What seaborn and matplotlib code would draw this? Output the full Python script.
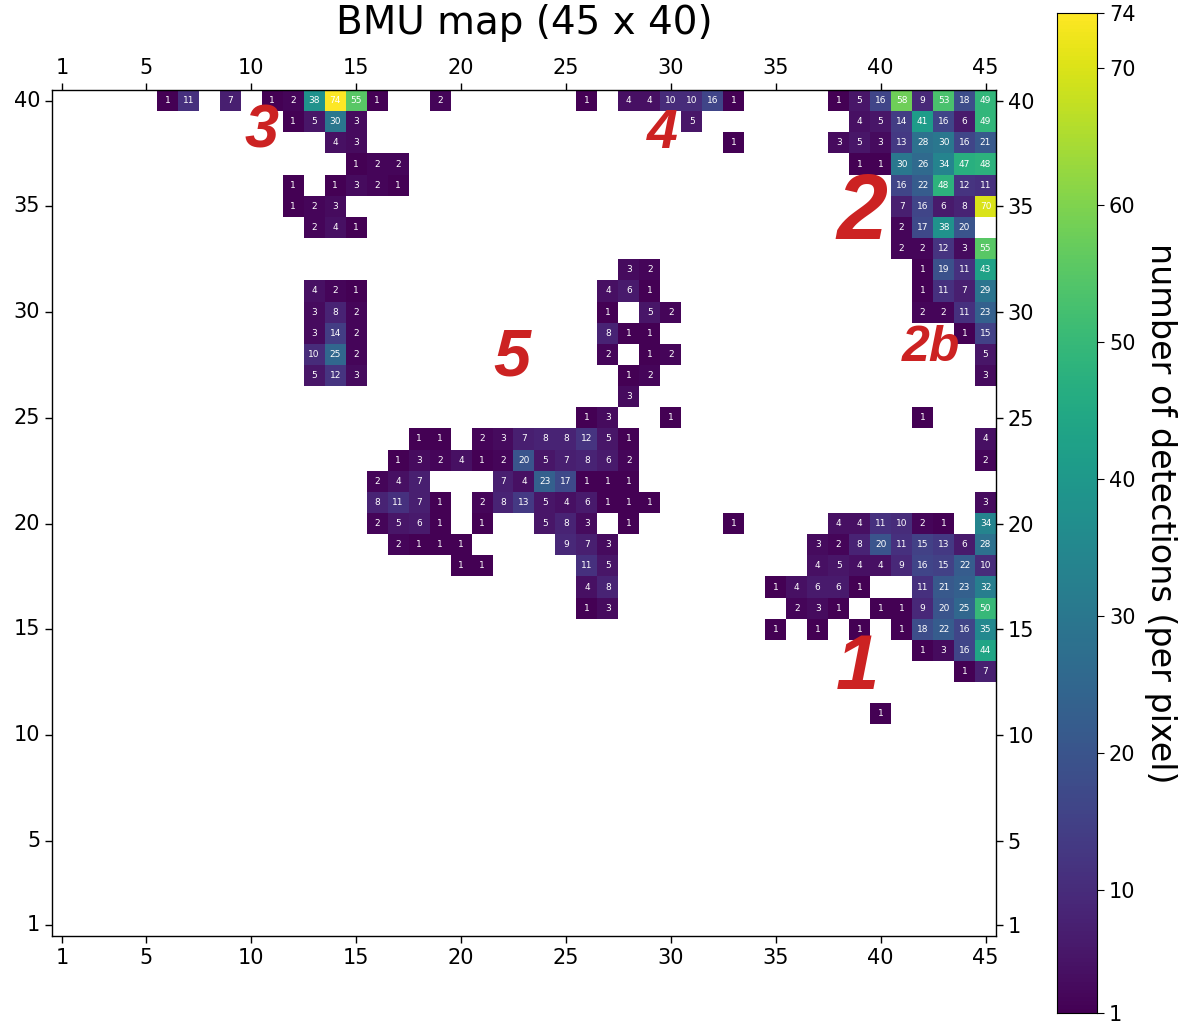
import numpy as np
import pandas as pd
import seaborn as sns
import matplotlib
matplotlib.use("Agg")
import matplotlib.pyplot as plt

# map size
n_cols = 45
n_rows = 40

# cells as (x, y, detections), grouped by region of the map
top_left = [(6, 40, 1), (7, 40, 11), (9, 40, 7), (11, 40, 1), (12, 40, 2), (13, 40, 38),
            (14, 40, 74), (15, 40, 55), (16, 40, 1), (19, 40, 2),
            (12, 39, 1), (13, 39, 5), (14, 39, 30), (15, 39, 3),
            (14, 38, 4), (15, 38, 3),
            (15, 37, 1), (16, 37, 2), (17, 37, 2),
            (12, 36, 1), (14, 36, 1), (15, 36, 3), (16, 36, 2), (17, 36, 1),
            (12, 35, 1), (13, 35, 2), (14, 35, 3),
            (13, 34, 2), (14, 34, 4), (15, 34, 1)]

top_middle = [(26, 40, 1), (28, 40, 4), (29, 40, 4), (30, 40, 10), (31, 40, 10),
              (32, 40, 16), (33, 40, 1), (31, 39, 5), (33, 38, 1)]

top_right = [(38, 40, 1), (39, 40, 5), (40, 40, 16), (41, 40, 58), (42, 40, 9), (43, 40, 53),
             (44, 40, 18), (45, 40, 49),
             (39, 39, 4), (40, 39, 5), (41, 39, 14), (42, 39, 41), (43, 39, 16), (44, 39, 6), (45, 39, 49),
             (38, 38, 3), (39, 38, 5), (40, 38, 3), (41, 38, 13), (42, 38, 28), (43, 38, 30),
             (44, 38, 16), (45, 38, 21),
             (39, 37, 1), (40, 37, 1), (41, 37, 30), (42, 37, 26), (43, 37, 34), (44, 37, 47), (45, 37, 48),
             (41, 36, 16), (42, 36, 22), (43, 36, 48), (44, 36, 12), (45, 36, 11),
             (41, 35, 7), (42, 35, 16), (43, 35, 6), (44, 35, 8), (45, 35, 70),
             (41, 34, 2), (42, 34, 17), (43, 34, 38), (44, 34, 20),
             (41, 33, 2), (42, 33, 2), (43, 33, 12), (44, 33, 3), (45, 33, 55),
             (42, 32, 1), (43, 32, 19), (44, 32, 11), (45, 32, 43),
             (42, 31, 1), (43, 31, 11), (44, 31, 7), (45, 31, 29),
             (42, 30, 2), (43, 30, 2), (44, 30, 11), (45, 30, 23),
             (44, 29, 1), (45, 29, 15), (45, 28, 5), (45, 27, 3), (42, 25, 1)]

mid_left = [(13, 31, 4), (14, 31, 2), (15, 31, 1),
            (13, 30, 3), (14, 30, 8), (15, 30, 2),
            (13, 29, 3), (14, 29, 14), (15, 29, 2),
            (13, 28, 10), (14, 28, 25), (15, 28, 2),
            (13, 27, 5), (14, 27, 12), (15, 27, 3)]

centre = [(28, 32, 3), (29, 32, 2),
          (27, 31, 4), (28, 31, 6), (29, 31, 1),
          (27, 30, 1), (29, 30, 5), (30, 30, 2),
          (27, 29, 8), (28, 29, 1), (29, 29, 1),
          (27, 28, 2), (29, 28, 1), (30, 28, 2),
          (28, 27, 1), (29, 27, 2), (28, 26, 3),
          (26, 25, 1), (27, 25, 3), (30, 25, 1),
          (18, 24, 1), (19, 24, 1), (21, 24, 2), (22, 24, 3), (23, 24, 7), (24, 24, 8),
          (25, 24, 8), (26, 24, 12), (27, 24, 5), (28, 24, 1),
          (17, 23, 1), (18, 23, 3), (19, 23, 2), (20, 23, 4), (21, 23, 1), (22, 23, 2),
          (23, 23, 20), (24, 23, 5), (25, 23, 7), (26, 23, 8), (27, 23, 6), (28, 23, 2),
          (16, 22, 2), (17, 22, 4), (18, 22, 7), (22, 22, 7), (23, 22, 4), (24, 22, 23),
          (25, 22, 17), (26, 22, 1), (27, 22, 1), (28, 22, 1),
          (16, 21, 8), (17, 21, 11), (18, 21, 7), (19, 21, 1), (21, 21, 2), (22, 21, 8),
          (23, 21, 13), (24, 21, 5), (25, 21, 4), (26, 21, 6), (27, 21, 1), (28, 21, 1), (29, 21, 1),
          (16, 20, 2), (17, 20, 5), (18, 20, 6), (19, 20, 1), (21, 20, 1), (24, 20, 5),
          (25, 20, 8), (26, 20, 3), (28, 20, 1),
          (17, 19, 2), (18, 19, 1), (19, 19, 1), (20, 19, 1), (25, 19, 9), (26, 19, 7), (27, 19, 3),
          (20, 18, 1), (21, 18, 1), (26, 18, 11), (27, 18, 5),
          (26, 17, 4), (27, 17, 8), (26, 16, 1), (27, 16, 3)]

bottom_right = [(45, 24, 4), (45, 23, 2), (45, 21, 3),
                (33, 20, 1), (38, 20, 4), (39, 20, 4), (40, 20, 11), (41, 20, 10), (42, 20, 2),
                (43, 20, 1), (45, 20, 34),
                (37, 19, 3), (38, 19, 2), (39, 19, 8), (40, 19, 20), (41, 19, 11), (42, 19, 15),
                (43, 19, 13), (44, 19, 6), (45, 19, 28),
                (37, 18, 4), (38, 18, 5), (39, 18, 4), (40, 18, 4), (41, 18, 9), (42, 18, 16),
                (43, 18, 15), (44, 18, 22), (45, 18, 10),
                (35, 17, 1), (36, 17, 4), (37, 17, 6), (38, 17, 6), (39, 17, 1), (42, 17, 11),
                (43, 17, 21), (44, 17, 23), (45, 17, 32),
                (36, 16, 2), (37, 16, 3), (38, 16, 1), (40, 16, 1), (41, 16, 1), (42, 16, 9),
                (43, 16, 20), (44, 16, 25), (45, 16, 50),
                (35, 15, 1), (37, 15, 1), (39, 15, 1), (41, 15, 1), (42, 15, 18), (43, 15, 22),
                (44, 15, 16), (45, 15, 35),
                (42, 14, 1), (43, 14, 3), (44, 14, 16), (45, 14, 44),
                (44, 13, 1), (45, 13, 7), (40, 11, 1)]

# cluster labels (name, x, y, size)
labels = [("1", 38.9, 13.15, 56), ("2", 39.1, 34.6, 66), ("2b", 42.4, 28.3, 36),
          ("3", 10.5, 38.5, 44), ("4", 29.6, 38.4, 40), ("5", 22.4, 27.8, 48)]

x_ticks = [1, 5, 10, 15, 20, 25, 30, 35, 40, 45]
y_ticks = [1, 5, 10, 15, 20, 25, 30, 35, 40]
cbar_ticks = [1, 10, 20, 30, 40, 50, 60, 70, 74]

grid = np.full((n_rows, n_cols), np.nan)
for x, y, n in top_left + top_middle + top_right + mid_left + centre + bottom_right:
    grid[n_rows - y, x - 1] = n
df = pd.DataFrame(grid, index=range(n_rows, 0, -1), columns=range(1, n_cols + 1))

fig = plt.figure(figsize=(12, 10.3), dpi=100)
ax = fig.add_axes([0.0433, 0.0913, 0.7867, 0.8213])
cax = fig.add_axes([0.881, 0.0165, 0.0333, 0.971])

sns.heatmap(df, ax=ax, cbar_ax=cax, cmap="viridis", vmin=1, vmax=74,
            annot=True, fmt=".0f", annot_kws={"color": "white", "fontsize": 6.5},
            mask=df.isna(), square=False)

for s in ax.spines.values():
    s.set_visible(True)
    s.set_linewidth(1)
    s.set_color("black")

ax.set_xticks([v - 0.5 for v in x_ticks])
ax.set_xticklabels(x_ticks, rotation=0)
ax.set_yticks([n_rows - v + 0.5 for v in y_ticks])
ax.set_yticklabels(y_ticks, rotation=0)
ax.tick_params(axis="both", labelsize=15, length=5, width=1, direction="out",
               top=True, labeltop=True, right=True, labelright=True,
               bottom=True, labelbottom=True, left=True, labelleft=True)
ax.set_xlabel("")
ax.set_ylabel("")
ax.set_title("BMU map (45 x 40)", fontsize=28, pad=40)

for name, x, y, size in labels:
    ax.text(x - 0.5, n_rows - y + 0.5, name, color="#cc2222", fontsize=size,
            fontweight="bold", fontstyle="italic", family="Liberation Sans",
            ha="center", va="center")

cax.set_yticks(cbar_ticks)
cax.set_yticklabels(cbar_ticks)
cax.tick_params(labelsize=15, length=5)
cax.set_ylabel("number of detections (per pixel)", fontsize=24, rotation=270, labelpad=30)
for s in cax.spines.values():
    s.set_visible(True)

fig.savefig("out.png", dpi=100)
